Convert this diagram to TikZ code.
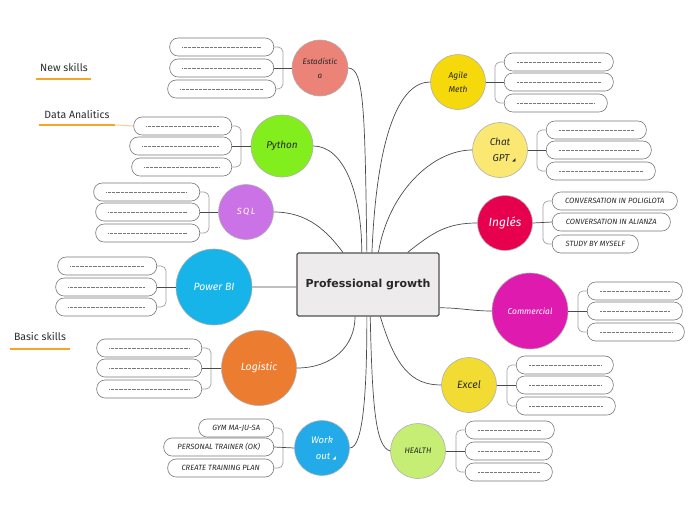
\documentclass[tikz,border=0pt]{standalone}
\usepackage{fontspec}
\setmainfont{Fira Sans}
\newfontfamily\corefont{DejaVu Sans}
\newfontfamily\symfont{DejaVu Sans}
\usetikzlibrary{calc}

\definecolor{lineColor}{RGB}{75,75,75}
\definecolor{ringGray}{RGB}{175,175,175}
\definecolor{boxGray}{RGB}{120,120,120}
\definecolor{braceGray}{RGB}{160,160,160}
\definecolor{dotGray}{RGB}{120,120,120}
\definecolor{darkText}{RGB}{40,40,40}
\definecolor{tagText}{RGB}{45,45,45}
\definecolor{tagOrange}{RGB}{247,166,35}
\definecolor{tagFaint}{RGB}{250,205,150}
\definecolor{coreFill}{RGB}{237,235,235}
\definecolor{coreBorder}{RGB}{80,80,80}
\definecolor{cEst}{RGB}{236,131,120}
\definecolor{cPy}{RGB}{131,238,30}
\definecolor{cSql}{RGB}{203,114,230}
\definecolor{cPbi}{RGB}{22,180,232}
\definecolor{cLog}{RGB}{236,124,48}
\definecolor{cWork}{RGB}{34,170,233}
\definecolor{cHealth}{RGB}{198,238,116}
\definecolor{cExcel}{RGB}{242,220,51}
\definecolor{cCom}{RGB}{222,26,175}
\definecolor{cIng}{RGB}{231,0,77}
\definecolor{cGpt}{RGB}{250,232,114}
\definecolor{cAgile}{RGB}{245,217,10}

% small corner mark after a topic name
\newcommand{\trimark}{{\symfont\fontsize{4.5}{5}\selectfont ◢}}

\begin{document}
\begin{tikzpicture}[
  x=1pt, y=-1pt,
  core/.style={draw=coreBorder, fill=coreFill, line width=1.2pt, rounded corners=1.5pt, minimum width=142pt, minimum height=63pt, font=\corefont\bfseries\fontsize{11}{13}\selectfont, text=darkText},
  topic/.style={circle, draw=ringGray, line width=0.6pt, inner sep=0pt, align=center, font=\itshape\fontsize{10}{15}\selectfont, text=darkText},
  item/.style={draw=boxGray, line width=0.6pt, rounded corners=8.5pt, minimum height=18pt, inner sep=2pt, font=\itshape\fontsize{7.6}{9}\selectfont, text=darkText},
  dots/.style={draw=dotGray, line width=0.45pt, dash pattern=on 0.5pt off 0.8pt},
  link/.style={draw=lineColor, line width=0.7pt},
  brace/.style={draw=braceGray, line width=0.7pt, rounded corners=5pt},
  tag/.style={font=\fontsize{10.5}{12}\selectfont, text=tagText},
  uline/.style={draw=tagOrange, line width=1.4pt}
]
\useasboundingbox (0,0) rectangle (696,520);

% Central topic
\node[core] (core) at (368,284.5) {Professional growth};

% Main topics, left side
\node[topic, fill=cEst, minimum size=56pt, font=\itshape\fontsize{8}{14}\selectfont] (est) at (320,68) {Estadístic\\a};
\node[topic, fill=cPy, minimum size=62pt] (py) at (282,146) {Python};
\node[topic, fill=cSql, minimum size=55pt, text=white, font=\itshape\fontsize{9}{11}\selectfont] (sql) at (246,212) {S\,Q\,L};
\node[topic, fill=cPbi, minimum size=76pt, text=white, font=\itshape\fontsize{10.5}{12}\selectfont] (pbi) at (214,287) {Power BI};
\node[topic, fill=cLog, minimum size=75pt, text=white, font=\itshape\fontsize{10.5}{12}\selectfont] (lg) at (259,368) {Logistic};
\node[topic, fill=cWork, minimum size=55pt, text=white, font=\itshape\fontsize{9.5}{16}\selectfont] (wo) at (322,448) {Work\\\hspace{8pt}out \trimark};

% Main topics, right side
\node[topic, fill=cAgile, minimum size=55pt, font=\itshape\fontsize{8.5}{14}\selectfont] (ag) at (458,82) {Agile\\Meth};
\node[topic, fill=cGpt, minimum size=55pt, font=\itshape\fontsize{10}{16}\selectfont] (gpt) at (500,150) {Chat\\\hspace{8pt}GPT \trimark};
\node[topic, fill=cIng, minimum size=55pt, text=white, font=\itshape\fontsize{12}{14}\selectfont] (ing) at (505,223) {Inglés};
\node[topic, fill=cCom, minimum size=76pt, text=white, font=\itshape\fontsize{8.5}{10}\selectfont] (com) at (530,311) {Commercial};
\node[topic, fill=cExcel, minimum size=55pt, font=\itshape\fontsize{10.5}{12}\selectfont] (ex) at (469,385) {Excel};
\node[topic, fill=cHealth, minimum size=55pt, font=\itshape\fontsize{8}{10}\selectfont] (hl) at (418,451) {HEALTH};

% Empty subtopics (right edge given), left side
\foreach \n/\x/\y/\w in {e1/274/47/104, e2/274/68/104, e3/276/89/108,
    p1/232/126/98, p2/232/146/102, p3/232/167/100,
    s1/200/192/106, s2/200/212/104, s3/200/233/104,
    b1/157/266/99, b2/157/287/101, b3/157/307/101,
    l1/202/348/105, l2/202/368/105, l3/202/389/105} {
  \node[item, anchor=east, minimum width=\w*1pt] (\n) at (\x,\y) {};
  \draw[dots] ($(\n.west)+(13,0)$) -- ($(\n.east)-(13,0)$);
}

% Empty subtopics (left edge given), right side
\foreach \n/\x/\y/\w in {a1/504/62/109, a2/504/82/109, a3/504/103/103,
    g1/546/130/100, g2/546/150/105, g3/546/171/109,
    cm1/587/291/95, cm2/587/311/95, cm3/587/332/97,
    xl1/516/365/97, xl2/516/385/97, xl3/516/406/99,
    hl1/465/430/89, hl2/465/451/87, hl3/465/472/87} {
  \node[item, anchor=west, minimum width=\w*1pt] (\n) at (\x,\y) {};
  \draw[dots] ($(\n.west)+(13,0)$) -- ($(\n.east)-(13,0)$);
}

% Subtopics with text
\node[item, anchor=east, minimum width=75pt] (w1) at (274,428) {GYM MA-JU-SA};
\node[item, anchor=east, minimum width=110pt] (w2) at (274,447) {PERSONAL TRAINER (OK)};
\node[item, anchor=east, minimum width=106pt] (w3) at (274,468) {CREATE TRAINING PLAN};
\node[item, anchor=west, minimum width=125pt] (i1) at (552,201) {CONVERSATION IN POLIGLOTA};
\node[item, anchor=west, minimum width=118pt] (i2) at (552,222) {CONVERSATION IN ALIANZA};
\node[item, anchor=west, minimum width=86pt] (i3) at (552,244) {STUDY BY MYSELF};

% Braces and links to the subtopics
\foreach \t/\a/\b/\c in {est/e1/e2/e3, py/p1/p2/p3, sql/s1/s2/s3, pbi/b1/b2/b3, lg/l1/l2/l3, wo/w1/w2/w3} {
  \draw[brace] (\a.east) -| ($(\b.east)+(9,0)$) |- (\c.east);
  \draw[link] (\b.east) -- (\t.west);
}
\foreach \t/\a/\b/\c in {ag/a1/a2/a3, gpt/g1/g2/g3, ing/i1/i2/i3, com/cm1/cm2/cm3, ex/xl1/xl2/xl3, hl/hl1/hl2/hl3} {
  \draw[brace] (\a.west) -| ($(\b.west)-(9,0)$) |- (\c.west);
  \draw[link] (\t.east) -- (\b.west);
}

% Links from the central topic
\draw[link] (est.east) .. controls +(16,0) and +(-2,-140) .. (core.92);
\draw[link] (py.east) .. controls +(30,0) and +(0,-60) .. (core.101);
\draw[link] (sql.east) .. controls +(35,0) and +(-15,-20) .. (core.128);
\draw[link] (pbi.east) -- (core.182);
\draw[link] (lg.east) .. controls +(35,0) and +(0,30) .. (core.248);
\draw[link] (wo.east) .. controls +(14,0) and +(0,70) .. (core.268);
\draw[link] (core.274) .. controls +(2,95) and +(-14,-4) .. (hl.west);
\draw[link] (core.291) .. controls +(15,50) and +(-30,0) .. (ex.west);
\draw[link] (core.342) .. controls +(20,0) and +(-20,0) .. (com.west);
\draw[link] (core.39) .. controls +(25,-20) and +(-30,0) .. (ing.west);
\draw[link] (core.72) .. controls +(10,-60) and +(-40,0) .. (gpt.west);
\draw[link] (core.83) .. controls +(5,-120) and +(-30,0) .. (ag.west);

% Floating labels
\node[tag] (ns) at (64,67) {New skills};
\draw[uline] (36,79) -- (91,79);
\node[tag] (da) at (77,114) {Data Analitics};
\coordinate (daEnd) at (115,125);
\draw[uline] (39,125) -- (daEnd);
\draw[draw=tagFaint, line width=1pt] (daEnd) -- (p1.west);
\node[tag] (bs) at (40,336) {Basic skills};
\draw[uline] (10,349) -- (70,349);

\end{tikzpicture}
\end{document}
